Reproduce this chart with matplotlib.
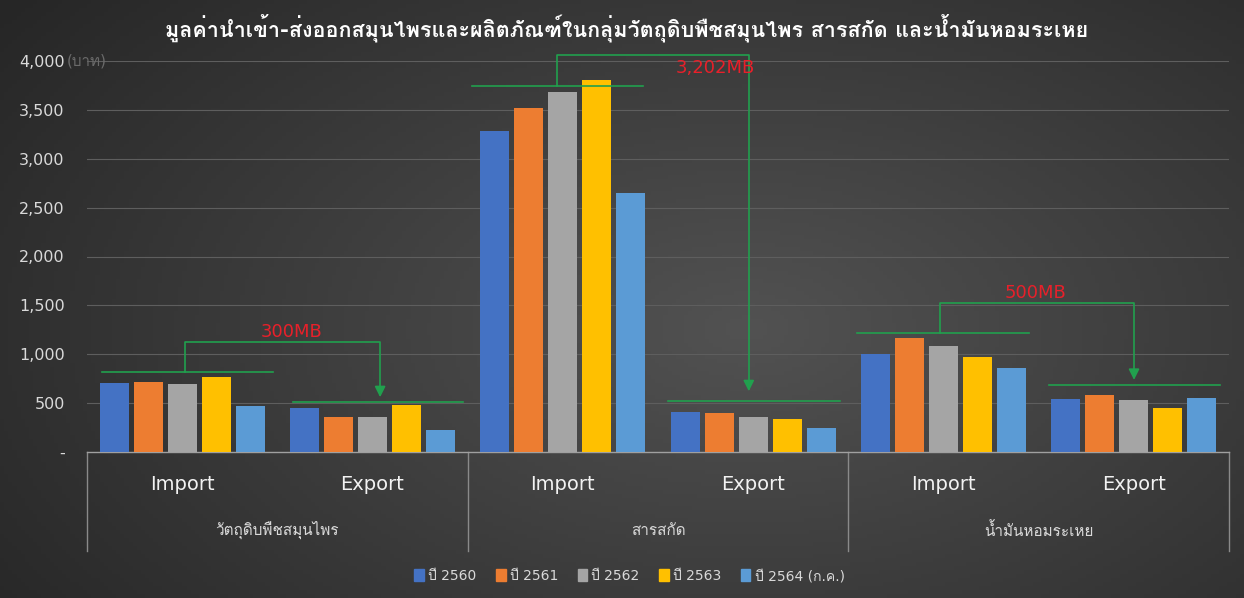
import numpy as np
import matplotlib
matplotlib.use('Agg')
import matplotlib.pyplot as plt
from matplotlib import font_manager
from matplotlib.ft2font import FT2Font
from matplotlib.patches import Patch

# หา font ที่มีอักษรไทย
thai = None
for f in font_manager.fontManager.ttflist:
    try:
        if 0x0E01 in FT2Font(f.fname).get_charmap():
            thai = f.name
            break
    except Exception:
        pass
fams = ['DejaVu Sans'] + ([thai] if thai else [])
plt.rcParams['font.family'] = fams

# ข้อมูล (ล้านบาท)
sub_labels = ['Import', 'Export', 'Import', 'Export', 'Import', 'Export']
groups = ['วัตถุดิบพืชสมุนไพร', 'สารสกัด', 'น้ำมันหอมระเหย']
years = ['ปี 2560', 'ปี 2561', 'ปี 2562', 'ปี 2563', 'ปี 2564 (ก.ค.)']
y2560 = [706, 450, 3287, 406, 1006, 545]
y2561 = [716, 358, 3516, 396, 1166, 583]
y2562 = [696, 358, 3680, 355, 1088, 535]
y2563 = [767, 481, 3809, 334, 969, 447]
y2564 = [470, 225, 2653, 245, 856, 556]
diff_labels = ['300MB', '3,202MB', '500MB']
yticks = [0, 500, 1000, 1500, 2000, 2500, 3000, 3500, 4000]
ytick_labels = ['-', '500', '1,000', '1,500', '2,000', '2,500', '3,000', '3,500', '4,000']

colors = ['#4472C4', '#ED7D31', '#A5A5A5', '#FFC000', '#5B9BD5']
green = '#21A04E'
txt = '#D9D9D9'

fig = plt.figure(figsize=(12.44, 5.98), dpi=100)

# พื้นหลังไล่สี
bg = fig.add_axes([0, 0, 1, 1], zorder=-10)
gx, gy = np.meshgrid(np.linspace(0, 1, 300), np.linspace(0, 1, 150))
r = np.sqrt(((gx - 0.6) / 0.75) ** 2 + ((gy - 0.55) / 0.9) ** 2)
r = np.clip(r, 0, 1)
c0 = np.array([0x52, 0x52, 0x52]) / 255
c1 = np.array([0x26, 0x26, 0x26]) / 255
img = c0[None, None, :] * (1 - r[..., None]) + c1[None, None, :] * r[..., None]
bg.imshow(img, aspect='auto', extent=[0, 1, 0, 1])
bg.axis('off')

ax = fig.add_axes([87 / 1244, 1 - 452 / 598, (1229 - 87) / 1244, (452 - 61) / 598])
ax.patch.set_alpha(0)

x = np.arange(len(sub_labels))
pitch = 0.1787
w = 0.152
series = [y2560, y2561, y2562, y2563, y2564]
for i, (vals, c) in enumerate(zip(series, colors)):
    ax.bar(x + (i - 2) * pitch, vals, width=w, color=c, zorder=3)

ax.set_xlim(-0.5, 5.5)
ax.set_ylim(0, 4000)
ax.set_yticks(yticks)
ax.set_yticklabels(ytick_labels, color=txt, fontsize=11.5)
ax.tick_params(axis='y', length=0, pad=16)
ax.set_xticks([])
for s in ['top', 'right', 'left']:
    ax.spines[s].set_visible(False)
ax.spines['bottom'].set_color('#A0A0A0')
ax.spines['bottom'].set_linewidth(1)
for v in yticks[1:]:
    ax.axhline(v, color='#5E5E5E', lw=0.8, zorder=1)

# ป้ายแกน x แบบสองชั้น
tr = ax.get_xaxis_transform()
for xi, lab in zip(x, sub_labels):
    ax.text(xi, -0.084, lab, transform=tr, ha='center', va='center',
            color='#F2F2F2', fontsize=14)
for gi, g in enumerate(groups):
    ax.text(2 * gi + 0.5, -0.2, g, transform=tr, ha='center', va='center',
            color=txt, fontsize=11)
for sx in [-0.5, 1.5, 3.5, 5.5]:
    ax.plot([sx, sx], [0, -0.253], transform=tr, color='#8A8A8A', lw=1,
            clip_on=False)

# วงเล็บเปรียบเทียบ import-export
brackets = [
    # (imp_x0, imp_x1, imp_y, vx, top, ax2, tip, exp_x0, exp_x1, exp_y, tx, ty)
    (-0.423, 0.475, 818, 0.013, 1125, 1.04, 532, 0.582, 1.476, 511, 0.577, 1228),
    (1.521, 2.42, 3747, 1.968, 4061, 2.977, 593, 2.555, 3.457, 518, 2.80, 3928),
    (3.546, 4.449, 1214, 3.982, 1527, 5.001, 709, 4.554, 5.452, 682, 4.481, 1630),
]
for b, lab in zip(brackets, diff_labels):
    ix0, ix1, iy, vx, top, x2, tip, ex0, ex1, ey, tx, ty = b
    ax.plot([ix0, ix1], [iy, iy], color=green, lw=1.2, zorder=4, clip_on=False)
    ax.plot([ex0, ex1], [ey, ey], color=green, lw=1.2, zorder=4, clip_on=False)
    ax.plot([vx, vx, x2, x2], [iy, top, top, tip + 60], color=green, lw=1.2,
            zorder=4, clip_on=False)
    ax.annotate('', xy=(x2, tip), xytext=(x2, tip + 100),
                arrowprops=dict(arrowstyle='-|>', color=green, lw=1.2,
                                mutation_scale=16), zorder=5)
    ax.text(tx, ty, lab, color='#E8202A', fontsize=13, ha='center',
            va='center', zorder=6)

fig.text(0.054, 1 - 61 / 598, '(บาท)', color='#6A6A6A', fontsize=11,
         ha='left', va='center')

fig.text(0.504, 1 - 28 / 598,
         'มูลค่านำเข้า-ส่งออกสมุนไพรและผลิตภัณฑ์ในกลุ่มวัตถุดิบพืชสมุนไพร สารสกัด และน้ำมันหอมระเหย',
         color='white', fontsize=15.5, fontweight='bold', ha='center', va='center')

handles = [Patch(color=c, label=l) for c, l in zip(colors, years)]
leg = fig.legend(handles=handles, loc='center', bbox_to_anchor=(0.506, 1 - 576 / 598),
                 ncol=5, frameon=False, fontsize=10, handlelength=0.7,
                 handleheight=0.9, handletextpad=0.3, columnspacing=1.4)
for t in leg.get_texts():
    t.set_color(txt)

fig.savefig('out.png', dpi=100)
